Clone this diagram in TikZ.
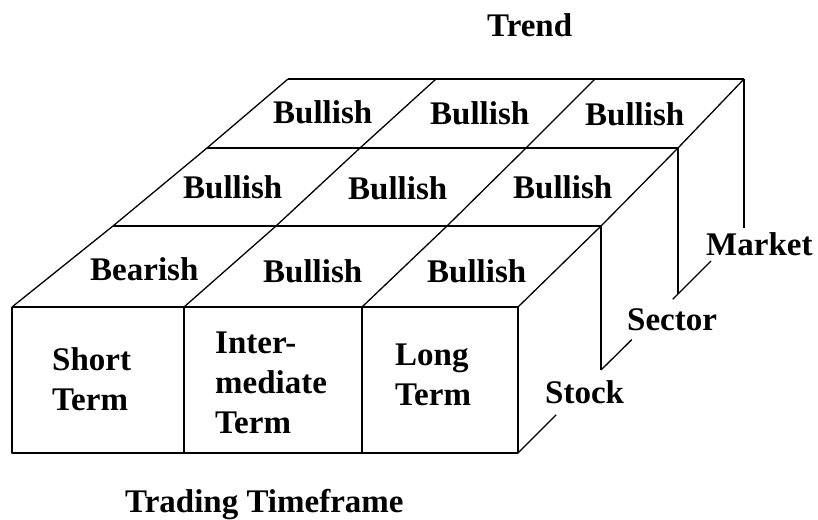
\documentclass[tikz,border=0pt]{standalone}
\usepackage{fontspec}
\setmainfont{Liberation Serif}
\usetikzlibrary{calc}
\begin{document}
\begin{tikzpicture}[x=1pt,y=-1pt,
  edge/.style={line width=1.3pt,black,line join=round},
  lbl/.style={font=\fontsize{33}{40}\selectfont\bfseries, inner sep=0pt, anchor=base west},
  mlbl/.style={lbl, align=left}]
\useasboundingbox[fill=white] (0,0) rectangle (818,519);
% corners of the top surface
\coordinate (L0) at (12,307);  \coordinate (A1) at (184,307); \coordinate (A2) at (362,307); \coordinate (R0) at (518,307);
\coordinate (L1) at (113,226); \coordinate (B1) at (276,226); \coordinate (B2) at (447,226); \coordinate (R1) at (601,226);
\coordinate (L2) at (207,148); \coordinate (C1) at (360,148); \coordinate (C2) at (526,148); \coordinate (R2) at (678,148);
\coordinate (L3) at (288,79);  \coordinate (D1) at (436,79);  \coordinate (D2) at (595,79);  \coordinate (R3) at (744,79);
% front face corners
\coordinate (F0) at (12,453); \coordinate (F1) at (184,453); \coordinate (F2) at (362,453); \coordinate (F3) at (518,453);
% bottoms of the slab edges
\coordinate (S1) at (601,370); \coordinate (S2) at (678,294); \coordinate (S3) at (744,228);
% top grid
\draw[edge] (L0) -- (R0);
\draw[edge] (L1) -- (R1);
\draw[edge] (L2) -- (R2);
\draw[edge] (L3) -- (R3);
\draw[edge] (L0) -- (L1) -- (L2) -- (L3);
\draw[edge] (A1) -- (B1) -- (C1) -- (D1);
\draw[edge] (A2) -- (B2) -- (C2) -- (D2);
\draw[edge] (R0) -- (R1) -- (R2) -- (R3);
% front face
\draw[edge] (L0) -- (F0) -- (F3) -- (R0);
\draw[edge] (A1) -- (F1);
\draw[edge] (A2) -- (F2);
% slab right edges
\draw[edge] (R1) -- (S1);
\draw[edge] (R2) -- (S2);
\draw[edge] (R3) -- (S3);
% bottom depth edges, broken by labels
\draw[edge] (F3) -- ($(F3)!0.46!(S1)$);
\draw[edge] (S1) -- ($(S1)!0.40!(S2)$);
\draw[edge] ($(S2)!-0.08!(S3)$) -- ($(S2)!0.50!(S3)$);
% labels
\node[lbl] (trend) at (487,37) {Trend};
\node[lbl] (title) at (125,512) {Trading Timeframe};
\node[lbl] (m1) at (273,123) {Bullish};
\node[lbl] (m2) at (430,124) {Bullish};
\node[lbl] (m3) at (585,125) {Bullish};
\node[lbl] (s1) at (183,198) {Bullish};
\node[lbl] (s2) at (348,199) {Bullish};
\node[lbl] (s3) at (513,198) {Bullish};
\node[lbl] (k1) at (90,280) {Bearish};
\node[lbl] (k2) at (263,282) {Bullish};
\node[lbl] (k3) at (427,282) {Bullish};
\node[mlbl] (short) at (52,410) {Short\\Term};
\node[mlbl] (inter) at (215,433) {Inter-\\mediate\\Term};
\node[mlbl] (long) at (395,405) {Long\\Term};
\node[lbl] (stock) at (545,403) {Stock};
\node[lbl] (sector) at (627,330) {Sector};
\node[lbl] (market) at (706,255) {Market};
\end{tikzpicture}
\end{document}
